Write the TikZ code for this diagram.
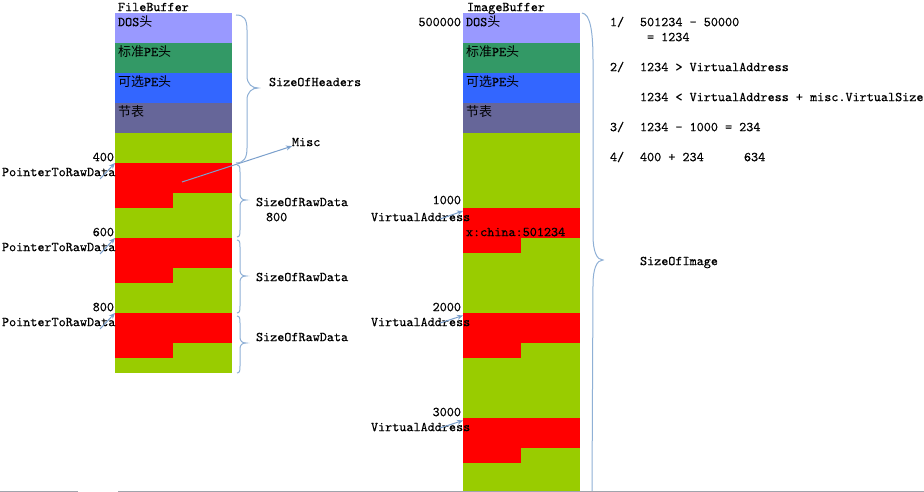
\documentclass[tikz,border=0pt]{standalone}
\usepackage{fontspec}
\usetikzlibrary{arrows.meta}
\newfontfamily\cjk{Noto Sans CJK SC}
\newfontfamily\mono[FakeBold=0.4]{lmmono10-regular.otf}
\newcommand\zh[1]{{\cjk\fontsize{13pt}{14pt}\selectfont #1}}
\definecolor{dosc}{HTML}{9999FF}
\definecolor{stdc}{HTML}{339966}
\definecolor{optc}{HTML}{3366FF}
\definecolor{secc}{HTML}{666699}
\definecolor{grn}{HTML}{99CC00}
\definecolor{secred}{HTML}{FF0000}
\definecolor{arrowc}{HTML}{7A9FCC}
\definecolor{bracec}{HTML}{8FB0D6}
\definecolor{greyln}{HTML}{A0A4AC}
\begin{document}
\begin{tikzpicture}[x=1pt,y=-1pt,
  blk/.style={rectangle,inner sep=0,outer sep=0,anchor=north west,minimum width=117pt,minimum height=30pt},
  tail/.style={rectangle,inner sep=0,outer sep=0,anchor=north west,minimum width=58pt,minimum height=15pt,fill=secred},
  txt/.style={inner sep=0,outer sep=0,anchor=west,font=\mono\fontsize{13.5pt}{15pt}\selectfont,text height=8.3pt,text depth=0pt},
  rtxt/.style={txt,anchor=east},
  ptr/.style={draw=arrowc,line width=1pt,-{Stealth[length=6pt,width=5pt]}},
  brace/.style={draw=bracec,line width=1pt}]
\useasboundingbox (0,0) rectangle (924,492);
\fill[white] (0,0) rectangle (924,492);

% ---------- FileBuffer ----------
\node[blk,fill=grn,minimum height=240pt] (fbody) at (115,133) {};
\node[blk,fill=dosc] (fdos) at (115,13) {};
\node[blk,fill=stdc] (fstd) at (115,43) {};
\node[blk,fill=optc] (fopt) at (115,73) {};
\node[blk,fill=secc] (fsec) at (115,103) {};
\node[blk,fill=secred] (fr1) at (115,163) {};
\node[tail] (fr1t) at (115,193) {};
\node[blk,fill=secred] (fr2) at (115,238) {};
\node[tail] (fr2t) at (115,268) {};
\node[blk,fill=secred] (fr3) at (115,313) {};
\node[tail] (fr3t) at (115,343) {};

\node[txt] (ftitle) at (118,7) {FileBuffer};
\node[txt] (fdosl) at (118,22) {DOS\zh{头}};
\node[txt] (fstdl) at (118,52) {\zh{标准}PE\zh{头}};
\node[txt] (foptl) at (118,82) {\zh{可选}PE\zh{头}};
\node[txt] (fsecl) at (118,112) {\zh{节表}};

% ---------- ImageBuffer ----------
\node[blk,fill=grn,minimum height=359pt] (ibody) at (463,133) {};
\node[blk,fill=dosc] (idos) at (463,13) {};
\node[blk,fill=stdc] (istd) at (463,43) {};
\node[blk,fill=optc] (iopt) at (463,73) {};
\node[blk,fill=secc] (isec) at (463,103) {};
\node[blk,fill=secred] (ir1) at (463,208) {};
\node[tail] (ir1t) at (463,238) {};
\node[blk,fill=secred] (ir2) at (463,313) {};
\node[tail] (ir2t) at (463,343) {};
\node[blk,fill=secred] (ir3) at (463,418) {};
\node[tail] (ir3t) at (463,448) {};

\node[txt] (ititle) at (467,7) {ImageBuffer};
\node[txt] (idosl) at (466,22) {DOS\zh{头}};
\node[txt] (istdl) at (466,52) {\zh{标准}PE\zh{头}};
\node[txt] (ioptl) at (466,82) {\zh{可选}PE\zh{头}};
\node[txt] (isecl) at (466,112) {\zh{节表}};
\node[txt] (xchina) at (466,232) {x:china:501234};

% ---------- FileBuffer offsets ----------
\node[rtxt] (o400) at (114,157) {400};
\node[txt] (p1) at (2,172) {PointerToRawData};
\node[rtxt] (o600) at (114,232) {600};
\node[txt] (p2) at (2,247) {PointerToRawData};
\node[rtxt] (o800) at (114,307) {800};
\node[txt] (p3) at (2,322) {PointerToRawData};
\coordinate (p1s) at (100,179);
\coordinate (p2s) at (100,254);
\coordinate (p3s) at (100,329);
\draw[ptr] (p1s) -- (fr1.north west);
\draw[ptr] (p2s) -- (fr2.north west);
\draw[ptr] (p3s) -- (fr3.north west);

% ---------- ImageBuffer offsets ----------
\node[rtxt] (base) at (461,22) {500000};
\node[rtxt] (v1000) at (461,200) {1000};
\node[txt] (va1) at (371,217) {VirtualAddress};
\node[rtxt] (v2000) at (461,307) {2000};
\node[txt] (va2) at (371,322) {VirtualAddress};
\node[rtxt] (v3000) at (461,412) {3000};
\node[txt] (va3) at (371,427) {VirtualAddress};
\coordinate (va1s) at (440,219);
\coordinate (va2s) at (440,323);
\coordinate (va3s) at (440,428);
\draw[ptr] (va1s) -- ([yshift=-3pt]ir1.north west);
\draw[ptr] (va2s) -- ([yshift=-2.5pt]ir2.north west);
\draw[ptr] (va3s) -- ([yshift=-2.5pt]ir3.north west);

% ---------- Misc pointer ----------
\node[txt] (misc) at (292,142) {Misc};
\coordinate (miscs) at (182,182);
\draw[ptr] (miscs) -- (misc.south west);

% ---------- braces ----------
\draw[brace] (236,15) .. controls (244,15) and (247,19) .. (247,30) -- (247,76)
  .. controls (247,84) and (252,88) .. (258,88)
  .. controls (252,88) and (247,92) .. (247,100) -- (247,148)
  .. controls (247,158) and (244,163) .. (236,163);
\draw[brace] (237,165) .. controls (240,165) and (240,168) .. (240,172) -- (240,194)
  .. controls (240,198) and (242,200) .. (246,200)
  .. controls (242,200) and (240,202) .. (240,206) -- (240,230)
  .. controls (240,234) and (240,237) .. (237,237);
\draw[brace] (237,240) .. controls (240,240) and (240,243) .. (240,247) -- (240,270)
  .. controls (240,274) and (242,276) .. (246,276)
  .. controls (242,276) and (240,278) .. (240,282) -- (240,306)
  .. controls (240,310) and (240,313) .. (237,313);
\draw[brace] (237,316) .. controls (240,316) and (240,319) .. (240,323) -- (240,337)
  .. controls (240,341) and (242,343) .. (246,343)
  .. controls (242,343) and (240,345) .. (240,349) -- (240,366)
  .. controls (240,370) and (240,373) .. (237,373);
\draw[brace] (582,13) .. controls (590,14) and (593,30) .. (593,60) -- (593,235)
  .. controls (593,252) and (597,260) .. (603,260)
  .. controls (597,260) and (593,268) .. (593,285) -- (592,491);

\node[txt] (hdrs) at (269,82) {SizeOfHeaders};
\node[txt] (raw1) at (256,202) {SizeOfRawData};
\node[txt] (raw1v) at (266,217) {800};
\node[txt] (raw2) at (256,277) {SizeOfRawData};
\node[txt] (raw3) at (256,337) {SizeOfRawData};
\node[txt] (simg) at (640,261) {SizeOfImage};

% ---------- worked steps ----------
\node[txt] (s1) at (610,22) {1/};
\node[txt] (s1a) at (640,22) {501234 - 50000};
\node[txt] (s1b) at (647,37) {= 1234};
\node[txt] (s2) at (610,67) {2/};
\node[txt] (s2a) at (640,67) {1234 > VirtualAddress};
\node[txt] (s2b) at (640,97) {1234 < VirtualAddress + misc.VirtualSize};
\node[txt] (s3) at (610,127) {3/};
\node[txt] (s3a) at (640,127) {1234 - 1000 = 234};
\node[txt] (s4) at (610,157) {4/};
\node[txt] (s4a) at (640,157) {400 + 234};
\node[txt] (s4b) at (744,157) {634};

% bottom rule
\draw[greyln,line width=1pt] (0,491) -- (78,491) (118,491) -- (924,491);
\end{tikzpicture}
\end{document}
